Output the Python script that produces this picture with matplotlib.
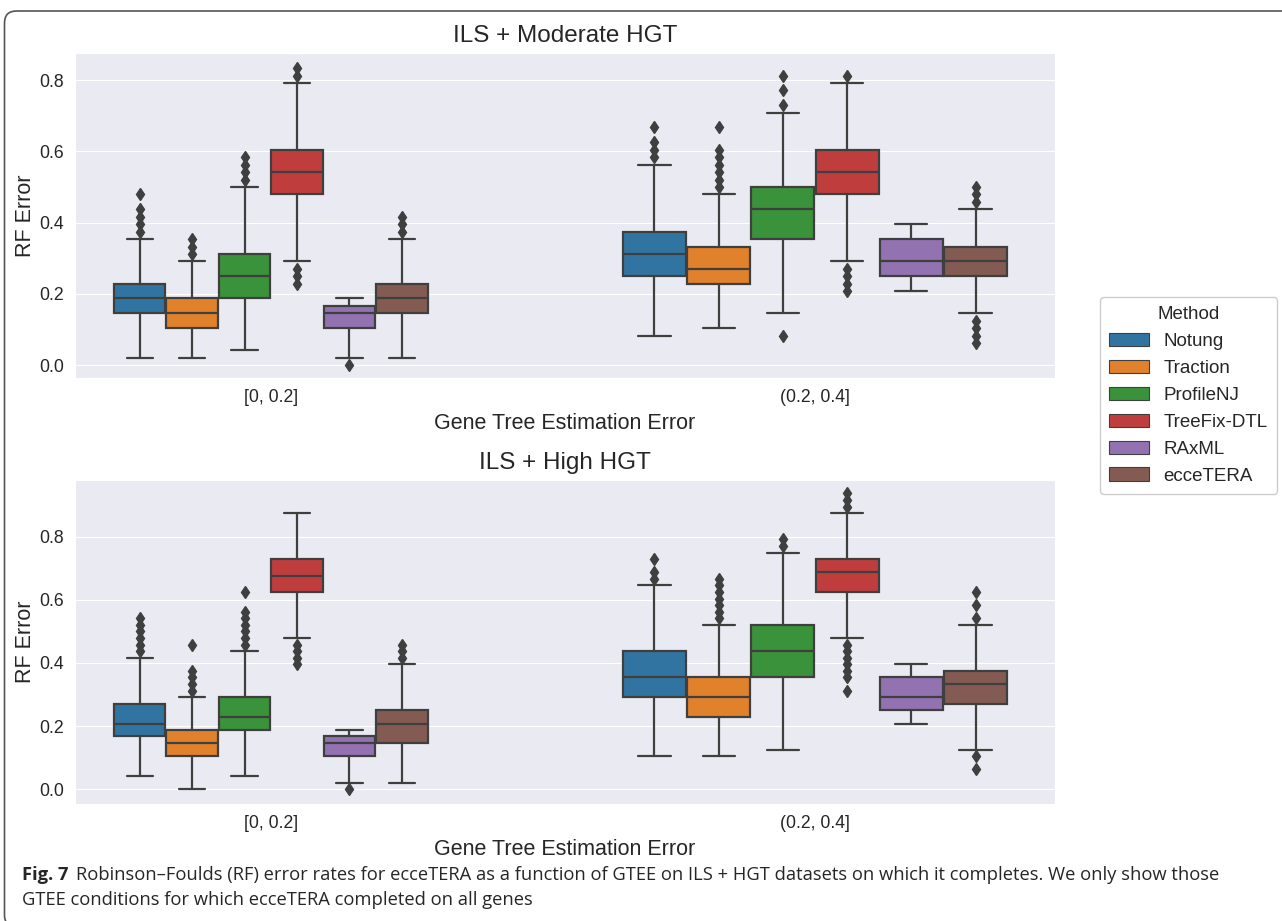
import matplotlib
matplotlib.use("Agg")
import matplotlib.pyplot as plt
import seaborn as sns
from matplotlib.patches import Patch, FancyBboxPatch
from matplotlib.transforms import IdentityTransform
from matplotlib import font_manager

methods = ["Notung", "Traction", "ProfileNJ", "TreeFix-DTL", "RAxML", "ecceTERA"]
groups = ["[0, 0.2]", "(0.2, 0.4]"]
colors = ["#3274a1", "#e1812c", "#3a923a", "#c03d3e", "#9372b2", "#845b53"]

# ILS + Moderate HGT, one row per GTEE bin, one value per method
mod_lo = [[0.021, 0.021, 0.042, 0.292, 0.021, 0.021],
          [0.083, 0.104, 0.146, 0.292, 0.208, 0.146]]
mod_q1 = [[0.146, 0.104, 0.1875, 0.479, 0.104, 0.146],
          [0.25, 0.229, 0.354, 0.479, 0.25, 0.25]]
mod_med = [[0.1875, 0.146, 0.25, 0.542, 0.146, 0.1875],
           [0.3125, 0.271, 0.4375, 0.542, 0.292, 0.292]]
mod_q3 = [[0.229, 0.1875, 0.3125, 0.604, 0.167, 0.229],
          [0.375, 0.333, 0.5, 0.604, 0.354, 0.333]]
mod_hi = [[0.354, 0.292, 0.5, 0.792, 0.1875, 0.354],
          [0.5625, 0.479, 0.708, 0.792, 0.396, 0.4375]]
mod_fliers = [
    [[0.375, 0.396, 0.417, 0.438, 0.479],
     [0.3125, 0.333, 0.354],
     [0.521, 0.542, 0.5625, 0.583],
     [0.229, 0.25, 0.271, 0.8125, 0.833],
     [0.0],
     [0.375, 0.396, 0.417]],
    [[0.583, 0.604, 0.625, 0.667],
     [0.5, 0.521, 0.542, 0.5625, 0.583, 0.604, 0.667],
     [0.083, 0.729, 0.771, 0.8125],
     [0.208, 0.229, 0.25, 0.271, 0.8125],
     [],
     [0.0625, 0.083, 0.104, 0.125, 0.458, 0.479, 0.5]],
]

# ILS + High HGT
high_lo = [[0.042, 0.0, 0.042, 0.479, 0.021, 0.021],
           [0.104, 0.104, 0.125, 0.479, 0.208, 0.125]]
high_q1 = [[0.167, 0.104, 0.1875, 0.625, 0.104, 0.146],
           [0.292, 0.229, 0.354, 0.625, 0.25, 0.271]]
high_med = [[0.208, 0.146, 0.229, 0.677, 0.146, 0.208],
            [0.354, 0.292, 0.4375, 0.6875, 0.292, 0.333]]
high_q3 = [[0.271, 0.1875, 0.292, 0.729, 0.167, 0.25],
           [0.4375, 0.354, 0.521, 0.729, 0.354, 0.375]]
high_hi = [[0.417, 0.292, 0.4375, 0.875, 0.1875, 0.396],
           [0.646, 0.521, 0.75, 0.875, 0.396, 0.521]]
high_fliers = [
    [[0.4375, 0.458, 0.479, 0.5, 0.521, 0.542],
     [0.3125, 0.333, 0.354, 0.375, 0.458],
     [0.458, 0.479, 0.5, 0.521, 0.542, 0.5625, 0.625],
     [0.396, 0.417, 0.4375, 0.458],
     [0.0],
     [0.417, 0.4375, 0.458]],
    [[0.667, 0.6875, 0.729],
     [0.542, 0.5625, 0.583, 0.604, 0.625, 0.646, 0.667],
     [0.771, 0.792],
     [0.3125, 0.354, 0.375, 0.396, 0.417, 0.4375, 0.458, 0.896, 0.917, 0.9375],
     [],
     [0.0625, 0.104, 0.542, 0.583, 0.625]],
]

W, H = 1282, 921
GRAY = "#3f3f3f"
box_pitch = [0.0964, 0.118]   # the two bins are drawn with different box widths

sns.set_style("darkgrid")
plt.rcParams["font.family"] = ["Liberation Sans", "DejaVu Sans"]

fig = plt.figure(figsize=(W / 100, H / 100), dpi=100)


def rect(l, t, r, b):
    return [l / W, 1 - b / H, (r - l) / W, (b - t) / H]


def draw_panel(ax, title, lo, q1, med, q3, hi, fliers, ylim):
    for g in range(len(groups)):
        w = box_pitch[g]
        stats = []
        for m in range(len(methods)):
            stats.append(dict(whislo=lo[g][m], q1=q1[g][m], med=med[g][m],
                              q3=q3[g][m], whishi=hi[g][m], fliers=fliers[g][m]))
        pos = [g + (m - 2.5) * w for m in range(len(methods))]
        bp = ax.bxp(stats, positions=pos, widths=w * 0.98, capwidths=w * 0.5,
                    patch_artist=True, showfliers=True, manage_ticks=False,
                    boxprops=dict(edgecolor=GRAY, linewidth=1.6),
                    whiskerprops=dict(color=GRAY, linewidth=1.6),
                    capprops=dict(color=GRAY, linewidth=1.6),
                    medianprops=dict(color=GRAY, linewidth=1.6),
                    flierprops=dict(marker="d", markerfacecolor=GRAY,
                                    markeredgecolor=GRAY, markersize=6.5))
        for patch, c in zip(bp["boxes"], colors):
            patch.set_facecolor(c)
    ax.set_xlim(-0.3598, 1.441)
    ax.set_ylim(*ylim)
    ax.set_xticks(range(len(groups)))
    ax.set_xticklabels(groups)
    ax.set_yticks([0.0, 0.2, 0.4, 0.6, 0.8])
    ax.set_yticklabels(["0.0", "0.2", "0.4", "0.6", "0.8"])
    ax.tick_params(length=0, labelsize=12.7, pad=8)
    ax.grid(axis="x", visible=False)
    ax.set_title(title, fontsize=17.5, pad=8)
    ax.set_xlabel("Gene Tree Estimation Error", fontsize=15.5, labelpad=5)
    ax.set_ylabel("RF Error", fontsize=15.5, labelpad=2)


ax1 = fig.add_axes(rect(75, 53, 1055, 378))
ax2 = fig.add_axes(rect(75, 480, 1055, 804))
draw_panel(ax1, "ILS + Moderate HGT", mod_lo, mod_q1, mod_med, mod_q3, mod_hi,
           mod_fliers, (-0.036, 0.876))
draw_panel(ax2, "ILS + High HGT", high_lo, high_q1, high_med, high_q3, high_hi,
           high_fliers, (-0.047, 0.98))

handles = [Patch(facecolor=c, edgecolor=GRAY, linewidth=0.8) for c in colors]
leg = fig.legend(handles, methods, title="Method", loc="upper left",
                 bbox_to_anchor=(1100 / W, 1 - 297 / H), fontsize=13.5,
                 title_fontsize=13.5, handlelength=2.1, handleheight=0.7,
                 handletextpad=0.8, labelspacing=0.52, borderaxespad=0,
                 borderpad=0.5, facecolor="white", edgecolor="0.8", framealpha=1)

# journal frame around the figure
frame = FancyBboxPatch((4.5, -6), 1320, 921 - 11 + 6, boxstyle="round,pad=0,rounding_size=12",
                       transform=IdentityTransform(), facecolor="none",
                       edgecolor="#555555", linewidth=1.2)
fig.add_artist(frame)

# caption
names = {f.name for f in font_manager.fontManager.ttflist}
cap_font = "Liberation Sans Narrow" if "Liberation Sans Narrow" in names else "Open Sans"
line1 = ("Robinson\u2013Foulds (RF) error rates for ecceTERA as a function of GTEE on "
         "ILS + HGT datasets on which it completes. We only show those")
line2 = "GTEE conditions for which ecceTERA completed on all genes"
size = 12.5
r = fig.canvas.get_renderer()
t0 = fig.text(22 / W, 1 - 880 / H, "Fig. 7", fontsize=size, fontweight="bold",
              family=cap_font, va="baseline")
x0 = t0.get_window_extent(r).x1 + 7
t1 = fig.text(x0 / W, 1 - 880 / H, line1, fontsize=size, family=cap_font, va="baseline")
wid = t1.get_window_extent(r).x1 - 22
size = size * (1227 - 22) / wid
t0.set_fontsize(size)
x0 = t0.get_window_extent(r).x1 + 7
t1.set_fontsize(size)
t1.set_x(x0 / W)
fig.text(22 / W, 1 - 905 / H, line2, fontsize=size, family=cap_font, va="baseline")

fig.savefig("out.png", dpi=100)
